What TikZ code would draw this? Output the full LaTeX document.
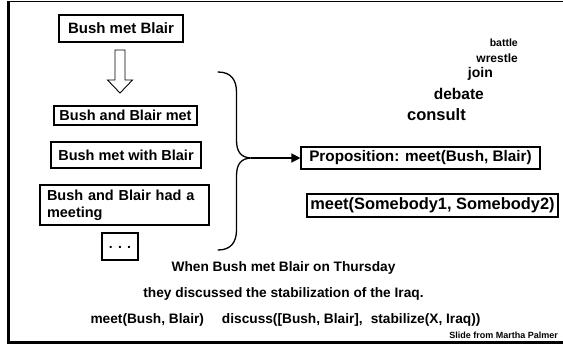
\documentclass[tikz,border=0pt]{standalone}
\usepackage{fontspec}
\setmainfont{Liberation Sans}
\usetikzlibrary{arrows.meta}
\newcommand{\fsz}[1]{\fontsize{#1}{#1}\selectfont\bfseries}
\begin{document}
\begin{tikzpicture}[x=1pt,y=-1pt,
  box/.style={draw,line width=1.1pt,inner sep=0pt,align=center},
  word/.style={inner sep=0pt},
  brace/.style={line width=1.3pt,line cap=round},
]
\useasboundingbox (0,0) rectangle (563,345);

% slide frame: thin top rule, heavy left and bottom rules
\draw[line width=1.3pt] (7,1.5) -- (563,1.5);
\draw[line width=3pt] (8.5,0.8) -- (8.5,344);
\draw[line width=3pt] (7,342.5) -- (563,342.5);

% surface sentences
\node[box,minimum width=124pt,minimum height=27pt] (b1) at (121,28.5) {\fsz{15}Bush met Blair};
\node[box,minimum width=143pt,minimum height=19pt] (b2) at (125.5,115.5) {\fsz{14.5}Bush and Blair met};
\node[box,minimum width=150pt,minimum height=26pt] (b3) at (126,155) {\fsz{14.5}Bush met with Blair};
\node[box,minimum width=169pt,minimum height=40pt,text width=155pt,align=left,
      font=\fontsize{14.5}{17}\selectfont\bfseries] (b4) at (124.5,205)
  {Bush and Blair had a\\meeting};
\node[box,minimum width=36pt,minimum height=27pt] (b5) at (120,246.5) {\raisebox{-4pt}{\fsz{14}. . .}};

% hollow block arrow between the first two sentences
\draw[line width=0.9pt,line join=miter]
  (115,50) -- (125,50) -- (125,80) -- (132.5,80) -- (120,93) -- (107.5,80) -- (115,80) -- cycle;

% predicate-argument structures
\node[box,minimum width=239pt,minimum height=22pt] (p) at (420.5,158) {\fsz{15.3}Proposition: meet(Bush, Blair)};
\node[box,minimum width=251pt,minimum height=23pt] (g) at (432.5,205.5) {\fsz{16.4}meet(Somebody1, Somebody2)};

% curly brace gathering the paraphrases
\coordinate (tip) at (251,158);
\draw[brace] (218,72) .. controls (231,72) and (236.5,80) .. (236.5,92)
  -- (236.5,140) .. controls (236.5,152) and (241,157.5) .. (tip)
  .. controls (241,158.5) and (236.5,164) .. (236.5,176)
  -- (236.5,230) .. controls (236.5,242) and (231,250) .. (218,250);
\draw[line width=1.3pt,-{Triangle[length=9pt,width=9pt]}] (tip) -- (p.west);

% related verbs
\node[word,anchor=mid east] (w1) at (518,44) {\fsz{10.5}battle};
\node[word,anchor=mid east] (w2) at (518,60) {\fsz{12}wrestle};
\node[word,anchor=mid east] (w3) at (493,75) {\fsz{14}join};
\node[word,anchor=mid east] (w4) at (484,97) {\fsz{15.5}debate};
\node[word,anchor=mid east] (w5) at (466,118) {\fsz{16.5}consult};

% example sentence and its logical form
\node[word,anchor=mid] (s1) at (283.5,269) {\fsz{13.7}When Bush met Blair on Thursday};
\node[word,anchor=mid] (s2) at (283.5,295) {\fsz{13.7}they discussed the stabilization of the Iraq.};
\node[word,anchor=mid] (s3) at (285.5,321) {\fsz{13.7}meet(Bush, Blair)\hspace{18pt}discuss([Bush, Blair],\hspace{8pt}stabilize(X, Iraq))};

% credit line
\node[word,anchor=mid east] (cr) at (558,336) {\fsz{9}Slide from Martha Palmer};
\end{tikzpicture}
\end{document}
